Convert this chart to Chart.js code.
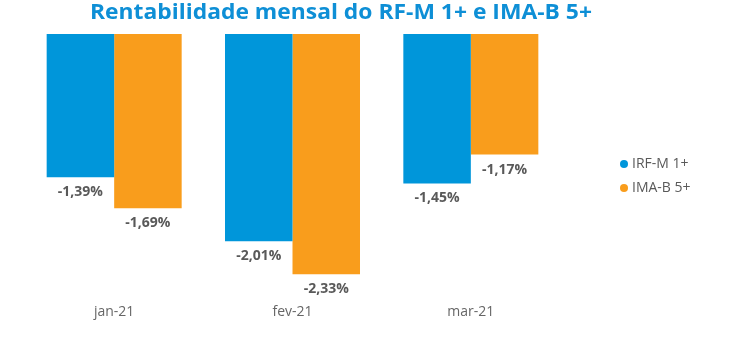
<!DOCTYPE html>
<html>
<head>
<meta charset="utf-8">
<script src="https://cdn.jsdelivr.net/npm/chart.js@4"></script>
<style>
html,body{margin:0;padding:0;background:#fff;}
#wrap{width:750px;height:355px;position:relative;}
</style>
</head>
<body>
<div id="wrap"><canvas id="c" width="750" height="355"></canvas></div>
<script>
const title = "Rentabilidade mensal do RF-M 1+ e IMA-B 5+";
const categories = ["jan-21", "fev-21", "mar-21"];
const seriesNames = ["IRF-M 1+", "IMA-B 5+"];
const irfm1 = [-1.39, -2.01, -1.45];
const imab5 = [-1.69, -2.33, -1.17];
const colors = ["#0096da", "#f99d1c"];

function fmt(v){ return v.toFixed(2).replace('.', ',') + '%'; }

const overlay = {
  id: 'overlay',
  afterDatasetsDraw(chart){
    const ctx = chart.ctx;
    ctx.save();
    // data labels
    ctx.font = 'bold 14px "Open Sans", sans-serif';
    ctx.fillStyle = '#595959';
    ctx.textAlign = 'center';
    ctx.textBaseline = 'middle';
    chart.data.datasets.forEach((ds, di) => {
      const meta = chart.getDatasetMeta(di);
      meta.data.forEach((el, i) => {
        ctx.fillText(fmt(ds.data[i]), el.x, el.y + 15);
      });
    });
    // title
    ctx.font = 'bold 22px "Open Sans", sans-serif';
    ctx.fillStyle = '#0e8fd6';
    ctx.textAlign = 'left';
    ctx.textBaseline = 'alphabetic';
    const w = ctx.measureText(title).width;
    const target = 502;
    ctx.save();
    ctx.translate(90, 19);
    ctx.scale(target / w, 1);
    ctx.fillText(title, 0, 0);
    ctx.restore();
    // legend
    ctx.font = '14px "Open Sans", sans-serif';
    ctx.textAlign = 'left';
    ctx.textBaseline = 'middle';
    chart.data.datasets.forEach((ds, di) => {
      const y = 164 + di * 24;
      ctx.fillStyle = ds.backgroundColor;
      ctx.beginPath();
      ctx.arc(624, y, 4, 0, Math.PI * 2);
      ctx.fill();
      ctx.fillStyle = '#595959';
      ctx.fillText(ds.label, 632, y);
    });
    ctx.restore();
  }
};

new Chart(document.getElementById('c'), {
  type: 'bar',
  data: {
    labels: categories,
    datasets: [
      { label: seriesNames[0], data: irfm1, backgroundColor: colors[0], borderWidth: 0 },
      { label: seriesNames[1], data: imab5, backgroundColor: colors[1], borderWidth: 0 }
    ]
  },
  options: {
    responsive: false,
    animation: false,
    layout: { padding: { left: 25, right: 190, top: 34, bottom: 33 } },
    datasets: { bar: { categoryPercentage: 0.757, barPercentage: 1 } },
    plugins: {
      legend: { display: false },
      title: { display: false },
      tooltip: { enabled: false }
    },
    scales: {
      x: {
        grid: { display: false },
        border: { display: false },
        ticks: { color: '#666666', font: { size: 14, family: '"Open Sans", sans-serif' }, padding: 2 }
      },
      y: {
        display: false,
        min: -2.515,
        max: 0
      }
    }
  },
  plugins: [overlay]
});
</script>
</body>
</html>
